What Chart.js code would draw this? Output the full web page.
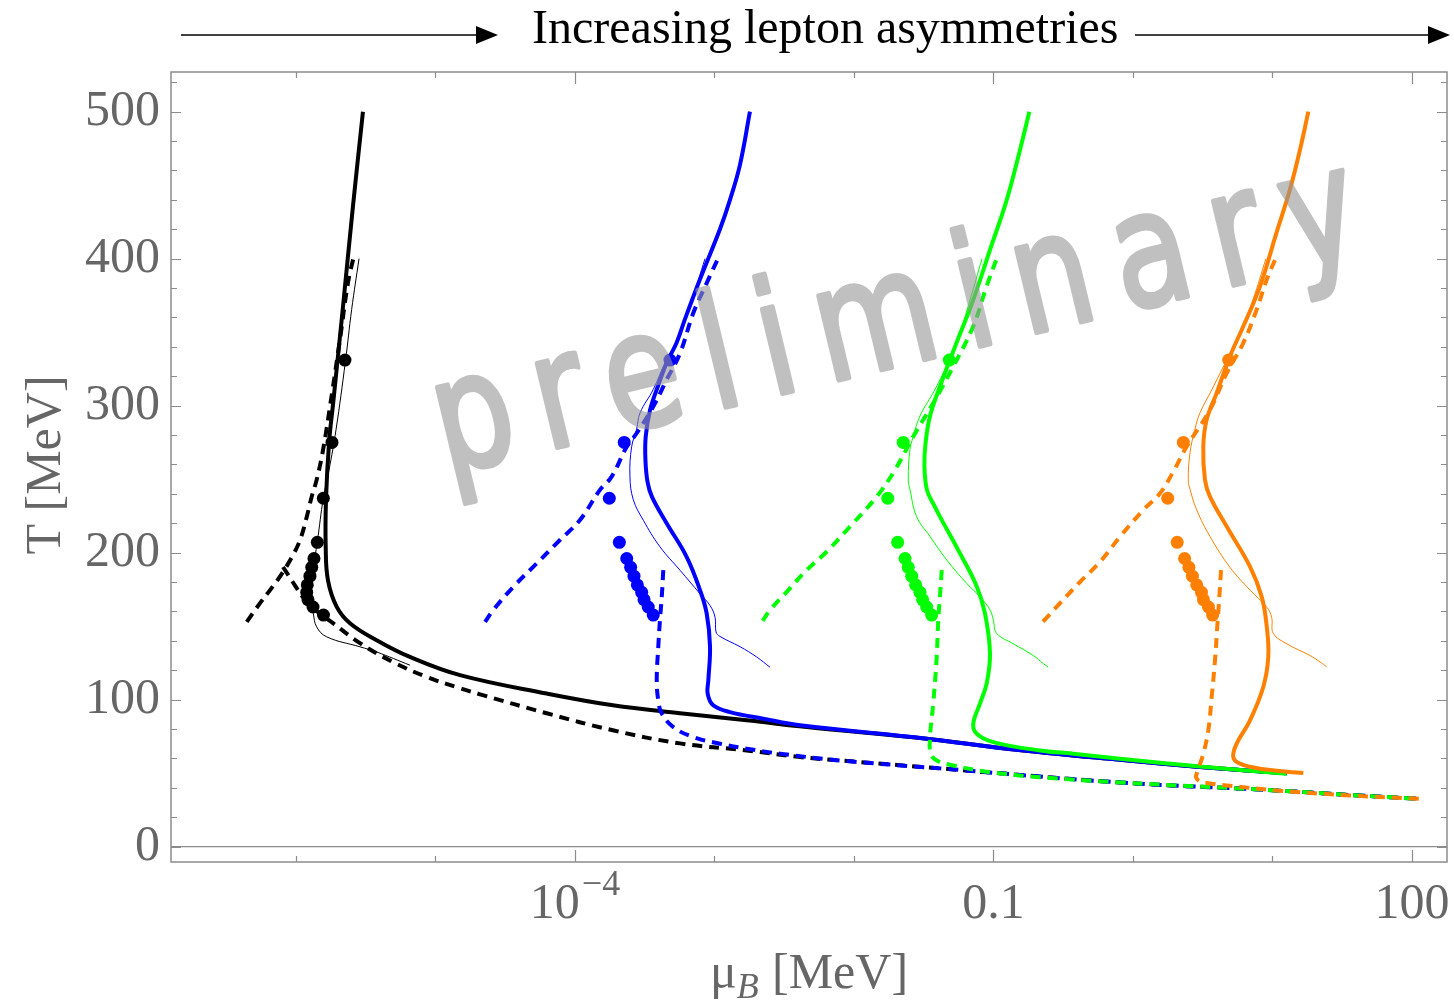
<!DOCTYPE html>
<html>
<head>
<meta charset="utf-8">
<script src="https://cdn.jsdelivr.net/npm/chart.js@4.4.0/dist/chart.umd.min.js"></script>
<style>
  html, body { margin: 0; padding: 0; background: #fff; }
  canvas { display: block; }
</style>
</head>
<body>
<canvas id="chart" width="1454" height="1000"></canvas>
<script>
// mu_B is kept as log10(mu_B / MeV), T in MeV

const yTicks = [0, 100, 200, 300, 400, 500];
const xDecades = [-6, -5, -4, -3, -2, -1, 0, 1, 2];
const xLabelValues = [1e-4, 0.1, 100];
const xLabelBase = ["10", "0.1", "100"];
const xLabelExp = ["\u22124", "", ""];

// lattice points, same temperatures for every asymmetry
const latticeT = [331, 275, 237, 207, 196, 190, 184, 178, 173, 168, 163, 157.5];
const blackDotsLogMu = [-5.649, -5.742, -5.804, -5.847, -5.871, -5.887, -5.900, -5.919, -5.923, -5.914, -5.878, -5.803];
const blueDotsLogMu = [-3.319, -3.647, -3.754, -3.682, -3.629, -3.601, -3.577, -3.553, -3.522, -3.505, -3.475, -3.439];
const greenDotsLogMu = [-1.317, -1.647, -1.758, -1.687, -1.634, -1.611, -1.586, -1.558, -1.527, -1.508, -1.479, -1.443];
const orangeDotsLogMu = [0.686, 0.361, 0.249, 0.317, 0.370, 0.401, 0.426, 0.457, 0.491, 0.505, 0.541, 0.571];

// black
const blackSolidLogMu = [-5.520, -5.594, -5.663, -5.731, -5.763, -5.785, -5.787, -5.771, -5.708, -5.613, -5.422, -5.183, -4.824, -4.203, -3.728, -3.247, -2.769, -2.339, -1.479, -0.905, -0.093, 0.480, 1.104];
const blackSolidT = [500, 433.5, 367.4, 304, 274.7, 235.9, 204, 181.3, 163.1, 152, 140.4, 129, 116.6, 104.1, 96.1, 90.7, 85.9, 81.3, 73.4, 66.6, 59.0, 54.2, 49.8];
const blackThinLogMu = [-5.548, -5.601, -5.645, -5.713, -5.763, -5.804, -5.847, -5.878, -5.892, -5.885, -5.876, -5.852, -5.780, -5.541, -5.422, -5.183];
const blackThinT = [400, 365.4, 330.6, 283.6, 256.3, 237.2, 207.4, 188.1, 174.5, 164.3, 158.6, 149.5, 142.7, 135.9, 132.4, 123.4];
const blackDashALogMu = [-6.353, -6.258, -6.186, -6.108, -6.029, -5.971, -5.923, -5.888, -5.852, -5.806, -5.749, -5.685, -5.627, -5.584];
const blackDashAT = [152.9, 165.6, 174.5, 184.7, 197.0, 208.6, 224.3, 237.9, 249.5, 269.9, 304.0, 344.9, 383.8, 402.2];
const blackDashBLogMu = [-6.093, -5.995, -5.950, -5.842, -5.735, -5.541, -5.305, -5.063, -4.824, -4.681, -4.203, -3.728, -3.247, -2.769, -2.387, -2.100, -1.384, -0.093, 1.032, 1.556, 2.057];
const blackDashBT = [190.2, 175.9, 169.7, 159.5, 152.0, 138.4, 125.6, 115.4, 107.7, 103.6, 90.7, 79.1, 70.2, 65.4, 60.9, 58.6, 53.2, 43.6, 38.2, 35.1, 32.5];

// blue
const blueSolidLogMu = [-2.746, -2.817, -2.889, -2.961, -3.104, -3.211, -3.271, -3.343, -3.414, -3.462, -3.493, -3.495, -3.480, -3.448, -3.343, -3.199, -3.104, -3.056, -3.032, -3.044, -3.049, -3.009, -2.889, -2.650, -2.387, -1.479, -0.905, -0.093, 0.480, 1.104];
const blueSolidT = [500, 464, 440, 420, 386, 359, 343, 329, 311, 297, 279, 263, 248.1, 237.9, 220, 197, 174.5, 158.6, 135.9, 113.2, 104.1, 96.1, 91.5, 87.0, 82.5, 73.4, 66.6, 59.0, 54.2, 49.8];
const blueThinLogMu = [-3.068, -3.161, -3.271, -3.355, -3.439, -3.534, -3.558, -3.594, -3.606, -3.582, -3.510, -3.391, -3.247, -3.104, -3.032, -2.996, -2.989, -2.961, -2.817, -2.698, -2.602];
const blueThinT = [400, 372, 343, 329, 311, 295, 284, 272, 252, 236, 222, 204, 188, 172, 164, 156, 146, 143, 136, 129, 122];
const blueDashALogMu = [-4.645, -4.586, -4.442, -4.275, -4.108, -3.964, -3.821, -3.737, -3.629, -3.558, -3.439, -3.343, -3.247, -3.152, -3.056, -2.961];
const blueDashAT = [152.8, 160.9, 176.7, 192.6, 208.6, 222.2, 242.7, 251.7, 272.1, 281.2, 299.4, 317.6, 335.7, 363.0, 383.4, 402.9];
const blueDashBLogMu = [-3.367, -3.378, -3.391, -3.403, -3.414, -3.403, -3.378, -3.295, -3.152, -2.961, -2.769, -2.530, -2.100, -1.384, -0.093, 1.032, 1.556, 2.057];
const blueDashBT = [188.1, 169.9, 154.1, 135.9, 113.2, 99.5, 90.5, 81.3, 74.5, 70.0, 66.6, 63.2, 58.6, 53.2, 43.6, 38.2, 35.1, 32.5];

// green
const greenSolidLogMu = [-0.743, -0.810, -0.905, -1.025, -1.145, -1.264, -1.384, -1.455, -1.487, -1.495, -1.477, -1.427, -1.384, -1.240, -1.120, -1.061, -1.025, -1.049, -1.097, -1.145, -1.120, -1.001, -0.667, -0.428, -0.093, 0.480, 1.102];
const greenSolidT = [500, 474, 440, 406, 372, 343, 313, 293, 274.5, 259, 242.7, 232.4, 224.5, 199.5, 177, 158.6, 131.4, 110.9, 97.3, 83.6, 76.8, 71.1, 65.4, 63.2, 59.8, 54.5, 49.6];
const greenThinLogMu = [-1.082, -1.168, -1.254, -1.317, -1.419, -1.527, -1.575, -1.599, -1.611, -1.599, -1.551, -1.455, -1.335, -1.192, -1.097, -1.025, -1.001, -0.977, -0.858, -0.715, -0.643, -0.607];
const greenThinT = [400, 372, 345, 331, 311, 293, 279, 270, 249.5, 243, 224.5, 211, 195, 179, 170, 161, 154, 145, 138, 130, 124.5, 122];
const greenDashALogMu = [-2.654, -2.602, -2.482, -2.339, -2.196, -2.029, -1.837, -1.706, -1.575, -1.432, -1.288, -1.145, -1.049, -0.966];
const greenDashAT = [153.6, 160.9, 173.3, 188.1, 200.6, 217.7, 238.1, 256.3, 279.0, 301.8, 326.7, 354.0, 381.3, 402.9];
const greenDashBLogMu = [-1.371, -1.384, -1.396, -1.407, -1.432, -1.455, -1.450, -1.407, -1.288, -1.025, -0.667, -0.093, 1.032, 1.556, 2.057];
const greenDashBT = [188.1, 169.9, 154.1, 129.0, 97.3, 74.5, 63.2, 58.6, 55.2, 50.6, 47.2, 43.6, 38.2, 35.1, 32.5];

// orange
const orangeSolidLogMu = [1.257, 1.197, 1.125, 1.030, 0.910, 0.791, 0.695, 0.600, 0.528, 0.504, 0.516, 0.552, 0.672, 0.839, 0.923, 0.959, 0.970, 0.934, 0.839, 0.743, 0.719, 0.767, 0.910, 1.221];
const orangeSolidT = [500, 474, 447, 418, 381, 354, 333.5, 308.6, 290.4, 272.2, 249.5, 238.1, 217.7, 190.4, 169.9, 149.5, 129.0, 108.6, 85.9, 70.0, 60.9, 56.4, 53.0, 50.0];
const orangeThinLogMu = [0.953, 0.860, 0.753, 0.672, 0.566, 0.480, 0.444, 0.409, 0.396, 0.409, 0.457, 0.552, 0.695, 0.839, 0.958, 0.994, 1.006, 1.102, 1.269, 1.341, 1.389];
const orangeThinT = [400, 372, 345, 331, 311, 295, 284, 268, 249.5, 243, 229, 211, 190, 174.5, 163, 156, 145, 138, 130, 125.6, 122.2];
const orangeDashALogMu = [-0.645, -0.523, -0.380, -0.237, -0.093, 0.074, 0.194, 0.289, 0.385, 0.552, 0.672, 0.791, 0.887, 0.959, 1.030];
const orangeDashAT = [153, 165.6, 180, 193.6, 210.8, 229, 240.4, 255.1, 272.2, 297.2, 322.2, 342.7, 365.4, 385.8, 401.7];
const orangeDashBLogMu = [0.631, 0.619, 0.604, 0.588, 0.564, 0.540, 0.504, 0.461, 0.452, 0.480, 0.528, 0.672, 1.030, 1.556, 2.057];
const orangeDashBT = [188.1, 169.9, 149.5, 126.8, 101.8, 79.1, 63.2, 50.6, 47.2, 44.3, 43.3, 41.6, 38.2, 34.8, 32.5];

const SERIF = '"Liberation Serif", "DejaVu Serif", serif';
const DASH = [10, 7];

function pts(logMu, T) {
  return logMu.map((v, i) => ({ x: Math.pow(10, v), y: T[i] }));
}

function curve(logMu, T, color, width, dash, order) {
  return {
    data: pts(logMu, T),
    showLine: true,
    borderColor: color,
    borderWidth: width,
    borderDash: dash || [],
    pointRadius: 0,
    pointHoverRadius: 0,
    tension: 0.4,
    fill: false,
    order: order
  };
}

function dots(logMu, color, order) {
  return {
    data: pts(logMu, latticeT),
    showLine: false,
    pointRadius: 6.5,
    pointBackgroundColor: color,
    pointBorderWidth: 0,
    order: order
  };
}

// lower order is painted on top
function group(color, base, s, t, da, db, d) {
  return [
    curve(s[0], s[1], color, 4, null, base + 4),
    curve(t[0], t[1], color, 1, null, base + 3),
    curve(da[0], da[1], color, 4, DASH, base + 2),
    curve(db[0], db[1], color, 4, DASH, base + 1),
    dots(d, color, base)
  ];
}

const datasets = [].concat(
  group("#000000", 30, [blackSolidLogMu, blackSolidT], [blackThinLogMu, blackThinT],
        [blackDashALogMu, blackDashAT], [blackDashBLogMu, blackDashBT], blackDotsLogMu),
  group("#0000ff", 20, [blueSolidLogMu, blueSolidT], [blueThinLogMu, blueThinT],
        [blueDashALogMu, blueDashAT], [blueDashBLogMu, blueDashBT], blueDotsLogMu),
  group("#00ff00", 10, [greenSolidLogMu, greenSolidT], [greenThinLogMu, greenThinT],
        [greenDashALogMu, greenDashAT], [greenDashBLogMu, greenDashBT], greenDotsLogMu),
  group("#ff8000", 0, [orangeSolidLogMu, orangeSolidT], [orangeThinLogMu, orangeThinT],
        [orangeDashALogMu, orangeDashAT], [orangeDashBLogMu, orangeDashBT], orangeDotsLogMu)
);

// frame with inward ticks on all four sides, plus the T = 0 axis line
const framePlugin = {
  id: "frame",
  beforeDatasetsDraw(chart) {
    const { ctx, chartArea: a, scales: { x, y } } = chart;
    ctx.save();
    ctx.strokeStyle = "#8c8c8c";
    ctx.lineWidth = 1.5;
    ctx.strokeRect(a.left, a.top, a.right - a.left, a.bottom - a.top);
    const y0 = y.getPixelForValue(0);
    ctx.beginPath();
    ctx.moveTo(a.left, y0);
    ctx.lineTo(a.right, y0);
    ctx.lineWidth = 1.2;
    ctx.stroke();

    ctx.beginPath();
    for (let v = 0; v <= 520; v += 20) {
      const py = Math.round(y.getPixelForValue(v)) + 0.5;
      const len = v % 100 === 0 ? 10 : 6;
      ctx.moveTo(a.left, py); ctx.lineTo(a.left + len, py);
      ctx.moveTo(a.right, py); ctx.lineTo(a.right - len, py);
    }
    x.ticks.forEach(t => {
      const px = Math.round(x.getPixelForValue(t.value)) + 0.5;
      const len = xLabelValues.some(v => Math.abs(Math.log10(v) - Math.log10(t.value)) < 1e-6) ? 12 : 6;
      ctx.moveTo(px, a.bottom); ctx.lineTo(px, a.bottom - len);
      ctx.moveTo(px, a.top); ctx.lineTo(px, a.top + len);
    });
    ctx.lineWidth = 1.2;
    ctx.stroke();
    ctx.restore();
  }
};

// grey handwritten stamp over the curves
const stampPlugin = {
  id: "stamp",
  afterDatasetsDraw(chart) {
    const { ctx } = chart;
    const off = document.createElement("canvas");
    off.width = chart.width;
    off.height = chart.height;
    const o = off.getContext("2d");
    o.translate(918, 361);
    o.rotate(-13.5 * Math.PI / 180);
    o.scale(0.8, 1.02);
    o.font = '155px "DejaVu Sans"';
    o.letterSpacing = "30px";
    o.textAlign = "center";
    o.textBaseline = "alphabetic";
    o.fillStyle = "#969696";
    o.strokeStyle = "#969696";
    o.lineWidth = 5;
    o.lineJoin = "round";
    o.lineCap = "round";
    o.fillText("preliminary", 0, 0);
    o.strokeText("preliminary", 0, 0);
    ctx.save();
    ctx.globalAlpha = 0.6;
    ctx.drawImage(off, 0, 0);
    ctx.restore();
  }
};

function arrow(ctx, x0, x1, y) {
  ctx.beginPath();
  ctx.moveTo(x0, y);
  ctx.lineTo(x1 - 18, y);
  ctx.lineWidth = 1.5;
  ctx.stroke();
  ctx.beginPath();
  ctx.moveTo(x1 - 22, y - 9);
  ctx.lineTo(x1, y);
  ctx.lineTo(x1 - 22, y + 9);
  ctx.closePath();
  ctx.fill();
}

// header, axis titles and bottom tick labels
const textPlugin = {
  id: "texts",
  afterDraw(chart) {
    const { ctx, scales: { x } } = chart;
    ctx.save();
    ctx.fillStyle = "#000";
    ctx.strokeStyle = "#000";
    ctx.font = "48px " + SERIF;
    ctx.textBaseline = "alphabetic";
    ctx.textAlign = "left";
    ctx.fillText("Increasing lepton asymmetries", 532, 43);
    arrow(ctx, 181, 498, 35);
    arrow(ctx, 1135, 1450, 35);

    ctx.fillStyle = "#666666";
    xLabelValues.forEach((v, i) => {
      const px = x.getPixelForValue(v);
      ctx.font = "50px " + SERIF;
      const wb = ctx.measureText(xLabelBase[i]).width;
      ctx.font = "36px " + SERIF;
      const we = xLabelExp[i] ? ctx.measureText(xLabelExp[i]).width + 2 : 0;
      const left = px - (wb + we) / 2;
      ctx.font = "50px " + SERIF;
      ctx.fillText(xLabelBase[i], left, 918);
      if (we) {
        ctx.font = "36px " + SERIF;
        ctx.fillText(xLabelExp[i], left + wb + 2, 895);
      }
    });

    ctx.font = "50px " + SERIF;
    ctx.fillText("\u03bc", 710, 988);
    const wm = ctx.measureText("\u03bc").width;
    ctx.font = "italic 36px " + SERIF;
    ctx.fillText("B", 710 + wm, 998);
    ctx.font = "50px " + SERIF;
    ctx.fillText("[MeV]", 772, 988);

    ctx.translate(60, 465);
    ctx.rotate(-Math.PI / 2);
    ctx.textAlign = "center";
    ctx.fillText("T [MeV]", 0, 0);
    ctx.restore();
  }
};

new Chart(document.getElementById("chart").getContext("2d"), {
  type: "scatter",
  data: { datasets: datasets },
  options: {
    responsive: false,
    animation: false,
    events: [],
    layout: { padding: { top: 72, right: 7, left: 0, bottom: 0 } },
    plugins: { legend: { display: false }, tooltip: { enabled: false } },
    scales: {
      x: {
        type: "logarithmic",
        min: Math.pow(10, -6.896),
        max: Math.pow(10, 2.251),
        grid: { display: false, drawTicks: false },
        border: { display: false },
        ticks: { display: false },
        afterBuildTicks: s => { s.ticks = xDecades.map(d => ({ value: Math.pow(10, d) })); },
        afterFit: s => { s.height = 138; }
      },
      y: {
        min: -10.5,
        max: 527,
        grid: { display: false, drawTicks: false },
        border: { display: false },
        ticks: {
          font: { family: SERIF, size: 50 },
          color: "#666666",
          padding: 11
        },
        afterBuildTicks: s => { s.ticks = yTicks.map(v => ({ value: v })); },
        afterFit: s => { s.width = 171; }
      }
    }
  },
  plugins: [framePlugin, stampPlugin, textPlugin]
});
</script>
</body>
</html>
